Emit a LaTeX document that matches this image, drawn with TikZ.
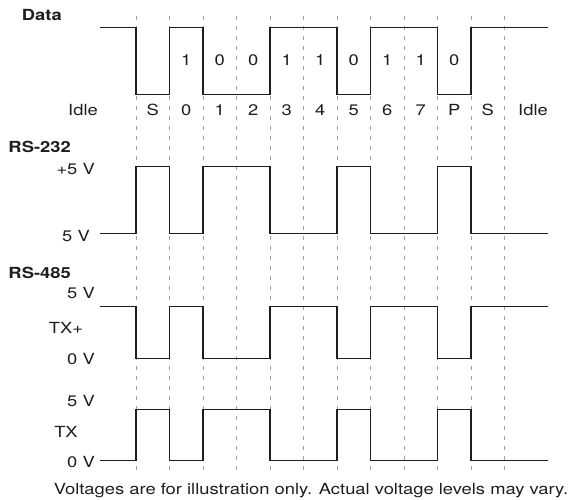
\documentclass[tikz,border=0pt]{standalone}
\usepackage{fontspec}
\setmainfont[FakeStretch=1.2]{TeX Gyre Heros}
\definecolor{wavecol}{HTML}{1E1E1E}
\definecolor{gridcol}{HTML}{A0A0A0}
\newcommand\wavedraw[2]{\draw[wave] (100,#1) -| (136,#2) -| (169.5,#1) -| (203,#2) -| (270,#1) -| (337,#2) -| (370.5,#1) -| (437.5,#2) -| (471,#1) -- (548,#1);}
\begin{document}
\begin{tikzpicture}[x=1pt,y=1pt,
  wave/.style={draw=wavecol,line width=1.1pt},
  gridline/.style={draw=gridcol,line width=0.8pt,dash pattern=on 4pt off 6pt},
  lbl/.style={inner sep=0pt,font=\fontsize{15.3}{18}\selectfont,text=wavecol},
  blbl/.style={lbl,font=\fontsize{15.3}{18}\selectfont\bfseries}]
\useasboundingbox (0,0) rectangle (577,-499);
% dashed grid
\foreach \i in {0,...,11} {
  \draw[gridline] (136+33.5*\i,-16) -- (136+33.5*\i,-471);
}
% waveforms
\wavedraw{-27.7}{-94.3}
\wavedraw{-233.3}{-166.7}
\wavedraw{-306.7}{-358.7}
\wavedraw{-460.7}{-409.3}
% Data labels
\node[blbl,anchor=base west] (data) at (21.7,-20.7) {Data};
\foreach \v [count=\i] in {1,0,0,1,1,0,1,1,0} {
  \node[lbl,anchor=base] (bit\i) at (136+33.5*\i+16.75,-65) {\v};
}
\foreach \v [count=\i from 0] in {S,0,1,2,3,4,5,6,7,P,S} {
  \node[lbl,anchor=base] (col\i) at (136+33.5*\i+16.75,-115) {\v};
}
\node[lbl,anchor=base east] (idleL) at (98,-115) {Idle};
\node[lbl,anchor=base east] (idleR) at (548,-115) {Idle};
% RS-232
\node[blbl,anchor=base west] (rs232) at (8.3,-152.3) {RS-232};
\node[lbl,anchor=base east] (p5) at (95,-174) {+5 V};
\node[lbl,anchor=base east] (m5) at (90,-241) {5 V};
% RS-485
\node[blbl,anchor=base west] (rs485) at (8.3,-278.5) {RS-485};
\node[lbl,anchor=base east] (a5) at (95,-298) {5 V};
\node[lbl,anchor=base] (txp) at (66,-333) {TX+};
\node[lbl,anchor=base east] (a0) at (95,-364.5) {0 V};
\node[lbl,anchor=base east] (b5) at (95,-406.7) {5 V};
\node[lbl,anchor=base] (txm) at (66,-437) {TX};
\node[lbl,anchor=base east] (b0) at (95,-467.3) {0 V};
% footer
\node[lbl,anchor=base] (foot) at (311,-494) {Voltages are for illustration only. Actual voltage levels may vary.};
\end{tikzpicture}
\end{document}
